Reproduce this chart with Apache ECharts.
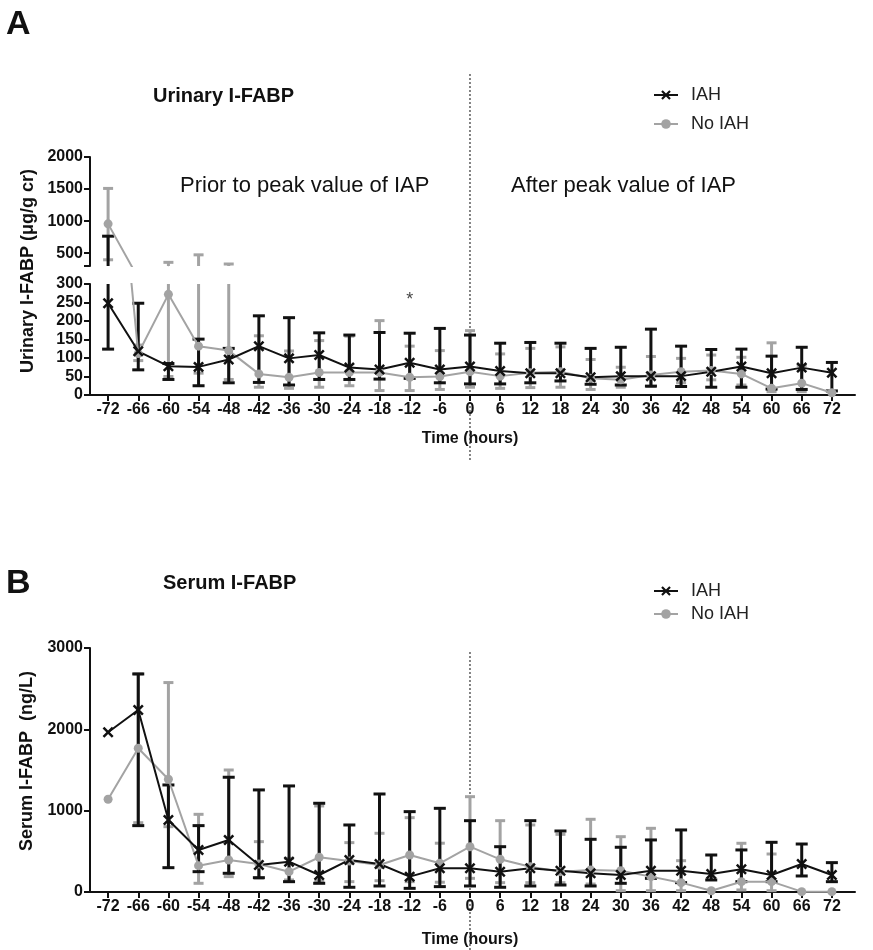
<!DOCTYPE html>
<html>
<head>
<meta charset="utf-8">
<script src="https://cdn.jsdelivr.net/npm/echarts@6/dist/echarts.min.js"></script>
<style>
html,body{margin:0;padding:0;background:#fff;}
#chart{width:873px;height:950px;}
</style>
</head>
<body>
<div id="chart"></div>
<script>
// ---------- data ----------
const hours = [-72,-66,-60,-54,-48,-42,-36,-30,-24,-18,-12,-6,0,6,12,18,24,30,36,42,48,54,60,66,72];

// Panel A: urinary I-FABP (µg/g cr)
const uIAHMean  = [248,118,78,76,96,132,99,108,74,69,87,69,77,65,59,59,48,51,51,51,63,77,59,74,60];
const uIAHHigh  = [765,248,85,151,126,214,209,168,162,169,167,180,162,140,142,140,126,129,178,132,123,124,105,129,88];
const uIAHLow   = [124,68,42,25,33,34,27,42,42,43,45,33,30,30,33,38,29,27,24,23,21,21,16,15,11];
const uNoMean   = [957,112,272,132,120,57,48,61,61,61,48,50,63,51,60,63,45,41,54,63,66,57,18,32,6];
const uNoHigh   = [1510,135,357,474,331,160,119,147,159,201,132,120,174,111,126,130,96,75,104,99,108,102,141,80,null];
const uNoLow    = [397,93,50,59,42,21,18,21,25,12,12,15,21,18,20,21,15,21,23,33,41,27,9,9,null];

// Panel B: serum I-FABP (ng/L)
const sIAHMean  = [1964,2238,886,517,640,332,373,209,394,344,189,291,291,250,291,262,230,209,262,262,221,279,209,344,209];
const sIAHHigh  = [null,2681,1316,816,1411,1255,1304,1091,824,1205,988,1029,877,557,877,750,648,550,640,763,455,517,611,590,361];
const sIAHLow   = [null,816,299,250,230,176,127,107,58,74,45,66,74,58,74,86,74,107,168,115,148,127,127,197,127];
const sNoMean   = [1140,1767,1386,324,394,344,250,427,381,332,455,353,557,402,311,250,270,262,189,115,16,127,127,4,4];
const sNoHigh   = [null,2681,2575,955,1500,619,414,1058,607,722,914,600,1172,877,824,709,894,680,783,385,null,599,467,null,null];
const sNoLow    = [null,852,803,107,189,170,148,139,127,139,127,120,168,115,115,115,98,16,16,16,null,25,16,null,null];

// axis ticks
const uUpperTicks = [300,500,1000,1500,2000];
const uUpperLabels = [500,1000,1500,2000];
// annotation (significance marker)
const sigMark = [[-12, 258]];

// ---------- helpers ----------
const FONT = "'Liberation Sans', Arial, Helvetica, sans-serif";
const BLACK = '#111111';
const GRAY = '#a3a3a3';
const XSYM = 'path://M0,1.6L1.6,0L5,3.4L8.4,0L10,1.6L6.6,5L10,8.4L8.4,10L5,6.6L1.6,10L0,8.4L3.4,5Z';

function pts(mean){ return hours.map((h,i)=>[h, mean[i]]); }
function errs(lo, hi){
  const out=[];
  hours.forEach((h,i)=>{ if(lo[i]!=null && hi[i]!=null) out.push([h, lo[i], hi[i]]); });
  return out;
}
function errRender(color, capW, lw){
  return function(params, api){
    const cs = params.coordSys;
    const top = cs.y, bot = cs.y + cs.height;
    const x = api.value(0);
    const pLo = api.coord([x, api.value(1)]);
    const pHi = api.coord([x, api.value(2)]);
    const yLo = pLo[1], yHi = pHi[1];
    if (yLo < top - 0.5 && yHi < top - 0.5) return null;
    if (yLo > bot + 0.5 && yHi > bot + 0.5) return null;
    const px = pLo[0];
    const cy1 = Math.min(Math.max(yLo, top), bot);
    const cy2 = Math.min(Math.max(yHi, top), bot);
    const st = {stroke: color, lineWidth: lw};
    const ch = [{type:'line', shape:{x1:px, y1:cy1, x2:px, y2:cy2}, style:st}];
    [yLo, yHi].forEach(y=>{
      if (y >= top - 0.5 && y <= bot + 0.5)
        ch.push({type:'line', shape:{x1:px-capW/2, y1:y, x2:px+capW/2, y2:y}, style:st});
    });
    return {type:'group', children: ch};
  };
}
function errSeries(name, lo, hi, gi, color, capW){
  return {type:'custom', name:name + ' range', xAxisIndex:gi, yAxisIndex:gi, data: errs(lo,hi),
    renderItem: errRender(color, capW, 3), silent:true, animation:false,
    encode:{x:0, y:[1,2]}};
}
function lineSeries(name, mean, gi, color, sym, size){
  return {type:'line', name:name, xAxisIndex:gi, yAxisIndex:gi, data: pts(mean),
    clip:true, symbol: sym, symbolSize: size, showAllSymbol:true,
    lineStyle:{color:color, width:2}, itemStyle:{color:color, borderWidth:0},
    emphasis:{disabled:true}, silent:true, animation:false, z:3};
}
function panelSeries(gi, iM, iL, iH, nM, nL, nH){
  return [
    errSeries('No IAH', nL, nH, gi, GRAY, 10),
    lineSeries('No IAH', nM, gi, GRAY, 'circle', 9),
    errSeries('IAH', iL, iH, gi, BLACK, 12),
    lineSeries('IAH', iM, gi, BLACK, XSYM, 11)
  ];
}

const XMIN = -75.6, XMAX = 76.6;
const axisLineS = {show:true, onZero:false, lineStyle:{color:BLACK, width:2}};
const tickS = {show:true, length:6, lineStyle:{color:BLACK, width:2}};
const labelS = {color:BLACK, fontFamily:FONT, fontWeight:'bold', fontSize:16, formatter:(v)=>String(v)};

function xAxisVisible(gi){
  return {type:'value', gridIndex:gi, min:XMIN, max:XMAX,
    axisLine:axisLineS, splitLine:{show:false},
    axisTick:Object.assign({customValues:hours}, tickS),
    axisLabel:Object.assign({customValues:hours, margin:7}, labelS)};
}

const chart = echarts.init(document.getElementById('chart'), null, {renderer:'canvas'});

const option = {
  animation:false,
  backgroundColor:'#ffffff',
  grid:[
    {left:90, width:765, top:157, height:109},
    {left:90, width:765, top:284, height:111},
    {left:90, width:765, top:648, height:244}
  ],
  xAxis:[
    {type:'value', gridIndex:0, min:XMIN, max:XMAX, show:false},
    xAxisVisible(1),
    xAxisVisible(2)
  ],
  yAxis:[
    {type:'value', gridIndex:0, min:300, max:2000, axisLine:axisLineS, splitLine:{show:false},
      axisTick:Object.assign({customValues:uUpperTicks}, tickS),
      axisLabel:Object.assign({customValues:uUpperLabels, margin:7}, labelS)},
    {type:'value', gridIndex:1, min:0, max:300, interval:50, axisLine:axisLineS, splitLine:{show:false},
      axisTick:tickS, axisLabel:Object.assign({margin:7}, labelS)},
    {type:'value', gridIndex:2, min:0, max:3000, interval:1000, axisLine:axisLineS, splitLine:{show:false},
      axisTick:tickS, axisLabel:Object.assign({margin:7}, labelS)}
  ],
  legend:[
    {data:['IAH','No IAH'], orient:'vertical', left:648, top:81, itemGap:11, itemWidth:24, itemHeight:12,
     selectedMode:false, textStyle:{fontFamily:FONT, fontSize:18, color:'#222', padding:[0,0,0,8]}},
    {data:['IAH','No IAH'], orient:'vertical', left:648, top:577, itemGap:5, itemWidth:24, itemHeight:12,
     selectedMode:false, textStyle:{fontFamily:FONT, fontSize:18, color:'#222', padding:[0,0,0,8]}}
  ],
  series:[].concat(
    panelSeries(0, uIAHMean, uIAHLow, uIAHHigh, uNoMean, uNoLow, uNoHigh),
    panelSeries(1, uIAHMean, uIAHLow, uIAHHigh, uNoMean, uNoLow, uNoHigh),
    panelSeries(2, sIAHMean, sIAHLow, sIAHHigh, sNoMean, sNoLow, sNoHigh),
    [{type:'scatter', xAxisIndex:1, yAxisIndex:1, data:sigMark, symbol:'circle', symbolSize:1,
      itemStyle:{color:'rgba(0,0,0,0)'}, silent:true,
      label:{show:true, position:'inside', formatter:'*', fontFamily:FONT, fontSize:18, color:BLACK}}]
  )
};
chart.setOption(option);

const x0 = chart.convertToPixel({xAxisIndex:1}, 0);
function txt(text, x, y, size, bold, align, rot){
  const o = {type:'text', x:x, y:y, silent:true,
    style:{text:text, fill:BLACK, font:(bold?'bold ':'') + size + 'px ' + FONT,
      align:align||'left', verticalAlign:'middle', textAlign:align||'left', textVerticalAlign:'middle'}};
  if (rot) o.rotation = rot;
  return o;
}
function dotted(y1, y2){
  return {type:'line', silent:true, shape:{x1:x0, y1:y1, x2:x0, y2:y2},
    style:{stroke:'#333', lineWidth:1.2, lineDash:[2,2]}};
}
chart.setOption({graphic:[
  txt('A', 6, 25, 34, true),
  txt('B', 6, 584, 34, true),
  txt('Urinary I-FABP', 153, 96, 20, true),
  txt('Serum I-FABP', 163, 583, 20, true),
  txt('Prior to peak value of IAP', 180, 186, 22, false),
  txt('After peak value of IAP', 511, 186, 22, false),
  txt('Time (hours)', 470, 439, 16, true, 'center'),
  txt('Time (hours)', 470, 940, 16, true, 'center'),
  txt('Urinary I-FABP (\u03bcg/g cr)', 28, 271, 18, true, 'center', Math.PI/2),
  txt('Serum I-FABP  (ng/L)', 27, 761, 18, true, 'center', Math.PI/2),
  dotted(74, 462),
  dotted(652, 950)
]});
</script>
</body>
</html>
